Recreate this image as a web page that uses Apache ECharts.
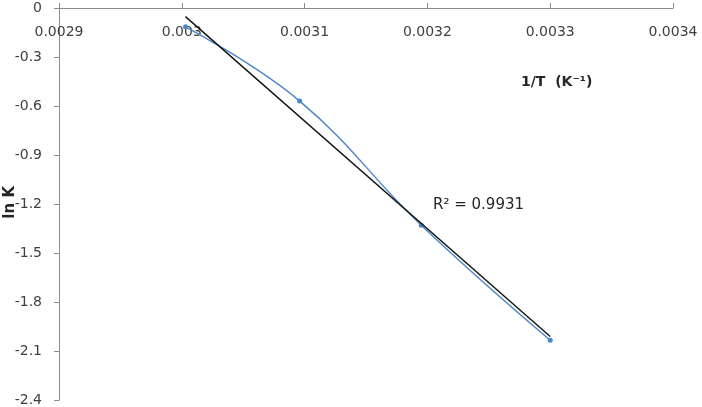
<!DOCTYPE html>
<html><head><meta charset="utf-8">
<script src="https://cdn.jsdelivr.net/npm/echarts@6/dist/echarts.min.js"></script>
<style>html,body{margin:0;padding:0;background:#fff}#c{width:702px;height:407px}</style>
</head><body><div id="c"></div>
<script>
const invT = [0.003003, 0.003096, 0.003195, 0.0033];
const lnK = [-0.115, -0.570, -1.330, -2.034];
const xTicks = [0.0029, 0.0030, 0.0031, 0.0032, 0.0033, 0.0034];
const yTicks = [0, -0.3, -0.6, -0.9, -1.2, -1.5, -1.8, -2.1, -2.4];
const r2Label = 'R² = 0.9931';

// least-squares trend line from the data
const n = invT.length;
const mx = invT.reduce((a,b)=>a+b,0)/n, my = lnK.reduce((a,b)=>a+b,0)/n;
let sxy=0, sxx=0;
for (let i=0;i<n;i++){ sxy+=(invT[i]-mx)*(lnK[i]-my); sxx+=(invT[i]-mx)**2; }
const slope = sxy/sxx, icpt = my - slope*mx;
const trendX = [invT[0], invT[n-1]];
const trend = trendX.map(x=>[x, icpt+slope*x]);

const font = 'DejaVu Sans';
const chart = echarts.init(document.getElementById('c'));
chart.setOption({
  animation:false,
  grid:{left:59, top:8, right:29, bottom:6, containLabel:false},
  xAxis:{type:'value', position:'top', min:xTicks[0], max:xTicks[xTicks.length-1], interval:0.0001,
    axisLine:{onZero:false, lineStyle:{color:'#8c8c8c', width:1}},
    axisTick:{show:true, inside:false, length:5, lineStyle:{color:'#8c8c8c'}},
    axisLabel:{inside:true, margin:17, color:'#404040', fontFamily:font, fontSize:14,
      formatter:v=>String(+v.toFixed(4))},
    splitLine:{show:false}},
  yAxis:{type:'value', min:yTicks[yTicks.length-1], max:yTicks[0], interval:0.3,
    axisLine:{show:true, lineStyle:{color:'#8c8c8c', width:1}},
    axisTick:{show:true, length:5, lineStyle:{color:'#8c8c8c'}},
    axisLabel:{margin:17, color:'#404040', fontFamily:font, fontSize:14,
      formatter:v=>String(+v.toFixed(1))},
    splitLine:{show:false}},
  graphic:[
    {type:'text', left:521, top:75, style:{text:'1/T  (K⁻¹)', font:'bold 14px "DejaVu Sans"', fill:'#262626'}},
    {type:'text', left:3, top:186, rotation:Math.PI/2, originX:0, originY:0,
      style:{text:'ln K', font:'bold 15px "DejaVu Sans"', fill:'#262626'}},
    {type:'text', left:433, top:198, style:{text:r2Label, font:'15px "DejaVu Sans"', fill:'#262626'}}
  ],
  series:[
    {type:'line', data:invT.map((x,i)=>[x,lnK[i]]), smooth:0.42, symbol:'circle', symbolSize:5,
      lineStyle:{color:'#4a86c8', width:1.4}, itemStyle:{color:'#4a86c8'}, z:2},
    {type:'line', data:trend, symbol:'none', lineStyle:{color:'#111', width:1.4}, z:3}
  ]
});
</script></body></html>
